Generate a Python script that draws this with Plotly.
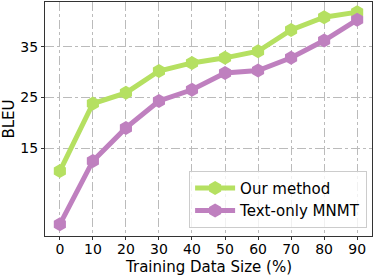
import plotly.graph_objects as go

sizes = [0, 10, 20, 30, 40, 50, 60, 70, 80, 90]
ours = [10.5, 23.8, 25.9, 30.2, 31.8, 32.8, 34.1, 38.3, 40.8, 41.8]
text_only = [0.0, 12.5, 19.0, 24.3, 26.5, 29.8, 30.3, 32.8, 36.2, 40.3]
y_ticks = [15, 25, 35]
x_ticks = [0, 10, 20, 30, 40, 50, 60, 70, 80, 90]

green = "#b5e061"
purple = "#bf80bf"

fig = go.Figure()
fig.add_trace(go.Scatter(x=sizes, y=ours, mode="lines+markers", name="Our method",
                         line=dict(color=green, width=5),
                         marker=dict(symbol="hexagon", size=14, color=green)))
fig.add_trace(go.Scatter(x=sizes, y=text_only, mode="lines+markers", name="Text-only MNMT",
                         line=dict(color=purple, width=5),
                         marker=dict(symbol="hexagon", size=14, color=purple)))

axis_common = dict(showline=True, linecolor="#333333", linewidth=1, mirror=True,
                   showgrid=True, gridcolor="#bbbbbb", griddash="dashdot", gridwidth=1,
                   ticks="outside", ticklen=3, tickcolor="#333333", zeroline=False,
                   tickfont=dict(family="DejaVu Sans", size=14, color="black"))
fig.update_xaxes(range=[-4.5, 94.5], tickvals=x_ticks, ticklabelstandoff=-3, **axis_common)
fig.update_yaxes(range=[-2.3, 43.8], tickvals=y_ticks,
                 title=dict(text="BLEU", font=dict(family="DejaVu Sans", size=15, color="black"), standoff=4),
                 **axis_common)

fig.add_annotation(text="Training Data Size (%)", xref="paper", yref="paper", x=0.5, y=0,
                   xanchor="center", yanchor="middle", yshift=-31, showarrow=False,
                   font=dict(family="DejaVu Sans", size=15, color="black"))

fig.update_layout(width=374, height=275, margin=dict(l=45, r=2, t=2, b=39),
                  plot_bgcolor="white", paper_bgcolor="white",
                  font=dict(family="DejaVu Sans", size=14, color="black"),
                  legend=dict(x=0.985, y=0.035, xanchor="right", yanchor="bottom",
                              bgcolor="rgba(255,255,255,0.8)", bordercolor="#cccccc", borderwidth=1,
                              font=dict(family="DejaVu Sans", size=15, color="black"),
                              itemwidth=40, tracegroupgap=0))
fig.write_html("out.html", config={"displayModeBar": False},
               post_script="document.body.style.margin='0';document.body.style.overflow='hidden';")
